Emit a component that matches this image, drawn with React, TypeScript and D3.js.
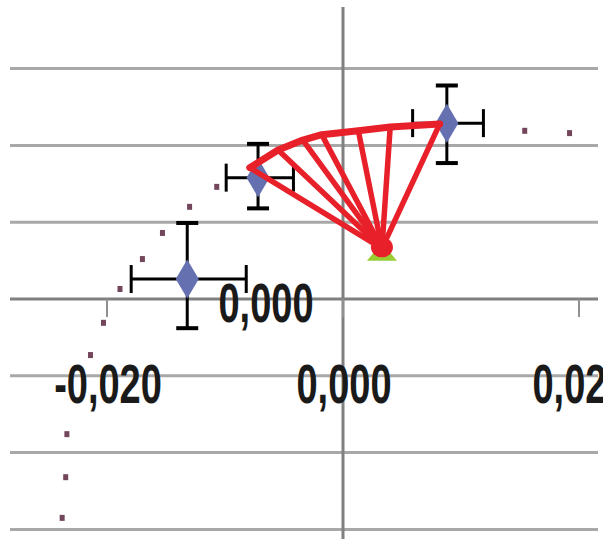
import React from "react";
import * as d3 from "d3";

// ---- data ----
const xTicks = [-0.02, 0, 0.02];
const xTickLabels = ["-0,020", "0,000", "0,020"];
const yGrid = [-0.03, -0.02, -0.01, 0, 0.01, 0.02, 0.03];
const yZeroLabel = "0,000";

// measured points (blue diamonds) with error bars
const pointX = [-0.0132, -0.0072, 0.0088];
const pointY = [0.0026, 0.0158, 0.0229];
const xErrMinus = [0.00475, 0.0027, 0.0029];
const xErrPlus = [0.005, 0.003, 0.0031];
const yErrMinus = [0.0064, 0.004, 0.0052];
const yErrPlus = [0.0073, 0.0044, 0.0049];

// small dotted series
const dotX = [-0.0238, -0.0235, -0.0234, -0.0214, -0.0203, -0.0189, -0.017, -0.0153, -0.013, -0.0107, 0.0154, 0.0192];
const dotY = [-0.0285, -0.0232, -0.0176, -0.0073, -0.0031, 0.0013, 0.0052, 0.0086, 0.012, 0.0146, 0.0219, 0.0216];

// red fan: apex and arc vertices
const apexX = 0.0033;
const apexY = 0.0066;
const arcX = [-0.0079, -0.0055, -0.0034, -0.0018, 0.0013, 0.004, 0.0082];
const arcY = [0.0171, 0.0194, 0.0207, 0.0214, 0.0219, 0.0224, 0.0228];

// green marker
const greenX = [0.0033];
const greenY = [0.0055];

export default function App() {
  const W = 603;
  const H = 539;
  const x = d3.scaleLinear().domain([-0.02, 0.02]).range([107, 579]);
  const y = d3.scaleLinear().domain([-0.03, 0.03]).range([529.4, 68.6]);

  const gridLeft = 10;
  const gridRight = 598;
  const textScaleY = 1.47;
  const fontSize = 38;

  const arcLine = d3
    .line<number>()
    .x((_, i) => x(arcX[i]))
    .y((_, i) => y(arcY[i]));

  const diamond = (cx: number, cy: number, w: number, h: number) =>
    `M${cx},${cy - h / 2}L${cx + w / 2},${cy}L${cx},${cy + h / 2}L${cx - w / 2},${cy}Z`;

  const label = (tx: number, baseline: number, s: string, key: string) => (
    <text
      key={key}
      transform={`translate(${tx},${baseline}) scale(1,${textScaleY})`}
      textAnchor="middle"
      fontFamily="'Liberation Sans', Arial, sans-serif"
      fontWeight="bold"
      fontSize={fontSize}
      fill="#1a1a1a"
    >
      {s}
    </text>
  );

  const ax = x(apexX);
  const ay = y(apexY);

  return (
    <svg
      width={W}
      height={H}
      style={{ position: "absolute", left: 0, top: 0, background: "#fff" }}
    >
      <rect x={0} y={0} width={W} height={H} fill="#fff" />
      {/* horizontal gridlines */}
      {yGrid.map((v) => (
        <line
          key={"g" + v}
          x1={gridLeft}
          x2={gridRight}
          y1={y(v)}
          y2={y(v)}
          stroke={v === 0 ? "#808080" : "#a8a8a8"}
          strokeWidth={3}
        />
      ))}
      {/* vertical axis */}
      <line x1={x(0)} x2={x(0)} y1={7} y2={H} stroke="#808080" strokeWidth={3} />
      {/* x ticks */}
      {xTicks.map((v) => (
        <line
          key={"t" + v}
          x1={x(v)}
          x2={x(v)}
          y1={y(0)}
          y2={y(0) + 18}
          stroke="#909090"
          strokeWidth={2}
        />
      ))}
      {/* x tick labels */}
      {xTicks.map((v, i) => label(x(v) + 1, 403, xTickLabels[i], "xl" + i))}
      {/* y zero label */}
      {label(266, y(0) + 23, yZeroLabel, "yl")}

      {/* dots */}
      {dotX.map((v, i) => (
        <rect
          key={"d" + i}
          x={x(v) - 2.5}
          y={y(dotY[i]) - 3}
          width={5}
          height={6}
          fill="#74465c"
        />
      ))}

      {/* error bars */}
      {pointX.map((v, i) => {
        const cx = x(v);
        const cy = y(pointY[i]);
        const xl = x(v - xErrMinus[i]);
        const xr = x(v + xErrPlus[i]);
        const yt = y(pointY[i] + yErrPlus[i]);
        const yb = y(pointY[i] - yErrMinus[i]);
        return (
          <g key={"e" + i} stroke="#000">
            <line x1={xl} x2={xr} y1={cy} y2={cy} strokeWidth={3} />
            <line x1={xl} x2={xl} y1={cy - 14} y2={cy + 14} strokeWidth={3} />
            <line x1={xr} x2={xr} y1={cy - 14} y2={cy + 14} strokeWidth={3} />
            <line x1={cx} x2={cx} y1={yt} y2={yb} strokeWidth={3} />
            <line x1={cx - 11} x2={cx + 11} y1={yt} y2={yt} strokeWidth={4} />
            <line x1={cx - 11} x2={cx + 11} y1={yb} y2={yb} strokeWidth={4} />
          </g>
        );
      })}

      {/* green marker */}
      {greenX.map((v, i) => (
        <path
          key={"gm" + i}
          d={`M${x(v)},${y(greenY[i]) - 14}L${x(v) + 15},${y(greenY[i]) + 4}L${x(v) - 15},${y(greenY[i]) + 4}Z`}
          fill="#9acd32"
        />
      ))}

      {/* diamonds */}
      {pointX.map((v, i) => (
        <path key={"m" + i} d={diamond(x(v), y(pointY[i]), 23, 39)} fill="#6470b0" />
      ))}

      {/* red fan */}
      <g stroke="#e8202a" fill="none" strokeLinecap="round" strokeLinejoin="round">
        {arcX.map((v, i) => (
          <line
            key={"s" + i}
            x1={ax}
            y1={ay}
            x2={x(v)}
            y2={y(arcY[i])}
            strokeWidth={5.5}
          />
        ))}
        <path d={arcLine(arcX) || ""} strokeWidth={7} />
      </g>
      {/* red apex blob */}
      <ellipse cx={ax} cy={ay - 1} rx={11} ry={10} fill="#e8202a" />
    </svg>
  );
}
